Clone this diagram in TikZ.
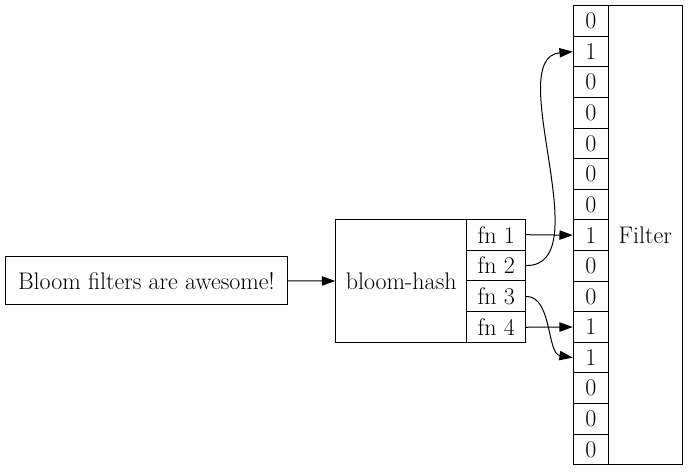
\documentclass[tikz,border=0pt]{standalone}
\usetikzlibrary{arrows.meta}
\newcommand{\bfsz}{\fontsize{18}{21}\selectfont}
\begin{document}
\begin{tikzpicture}[x=0.75pt,y=-0.75pt,
  box/.style={draw, line width=0.75pt, inner sep=0pt, font=\bfsz},
  cell/.style={box, minimum width=26.25pt, minimum height=22.95pt},
  fncell/.style={box, minimum width=44.25pt, minimum height=23.14pt},
  edge/.style={line width=0.75pt, -{Triangle[length=10pt,width=7pt]}}]
\useasboundingbox (0,0) rectangle (688,472);
% input
\node[box, minimum width=212pt, minimum height=36.2pt] (in) at (146.35,280.85) {Bloom filters are awesome!};
% bloom-hash
\node[box, minimum width=98.25pt, minimum height=92.55pt] (bh) at (401.2,281) {bloom-hash};
\node[fncell] (f1) at (496.2,234.7) {fn 1};
\node[fncell] (f2) at (496.2,265.55) {fn 2};
\node[fncell] (f3) at (496.2,296.4) {fn 3};
\node[fncell] (f4) at (496.2,327.25) {fn 4};
% filter
\foreach \v [count=\i from 0] in {0,1,0,0,0,0,0,1,0,0,1,1,0,0,0}
  \node[cell] (c\i) at (590.8,21+30.6*\i) {\v};
\node[box, minimum width=55.5pt, minimum height=344.25pt] (flt) at (645.3,235.2) {Filter};
% edges
\draw[edge] (in.east) -- (bh.west);
\draw[edge] (f1.east) -- (c7.west);
\draw[edge] (f2.east) .. controls (600,266) and (502,58) .. (c1.west);
\draw[edge] (f3.east) .. controls +(26,0) and +(-26,-4) .. (c11.west);
\draw[edge] (f4.east) -- (c10.west);
\end{tikzpicture}
\end{document}
